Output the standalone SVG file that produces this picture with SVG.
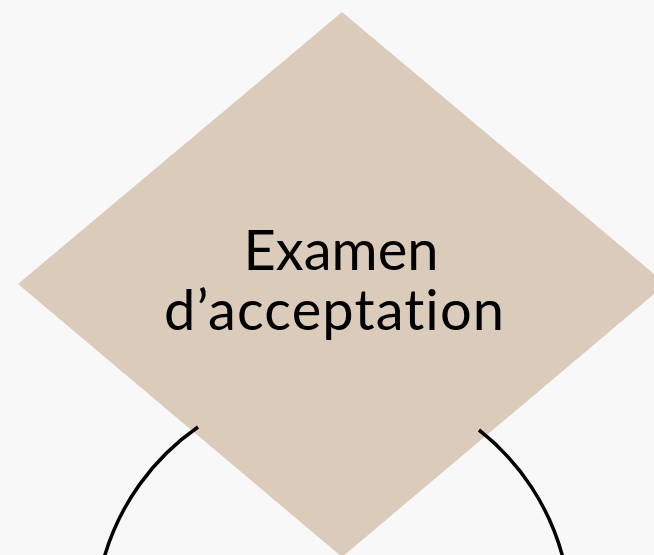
<svg xmlns="http://www.w3.org/2000/svg" width="654" height="555" viewBox="0 0 654 555">
  <style>
    .decision { fill: #dbcbbb; }
    .label { font-family: Lato, "Open Sans", sans-serif; font-size: 56px; fill: #000000; text-anchor: middle; font-variant-ligatures: none; }
    .link { fill: none; stroke: #000000; stroke-width: 3.5; }
  </style>
  <rect x="0" y="0" width="654" height="555" fill="#f8f8f8"/>
  <g id="examen-acceptation">
    <polygon class="decision" points="342,12 666,284 342,557 18,284"/>
    <text class="label" x="341" y="270">Examen</text>
    <text class="label" x="334" y="330" textLength="340" lengthAdjust="spacing">d’acceptation</text>
  </g>
  <g id="connectors">
    <path class="link" d="M 198 427 A 240 240 0 0 0 104 558"/>
    <path class="link" d="M 479 430 A 240 240 0 0 1 563 558"/>
  </g>
</svg>
